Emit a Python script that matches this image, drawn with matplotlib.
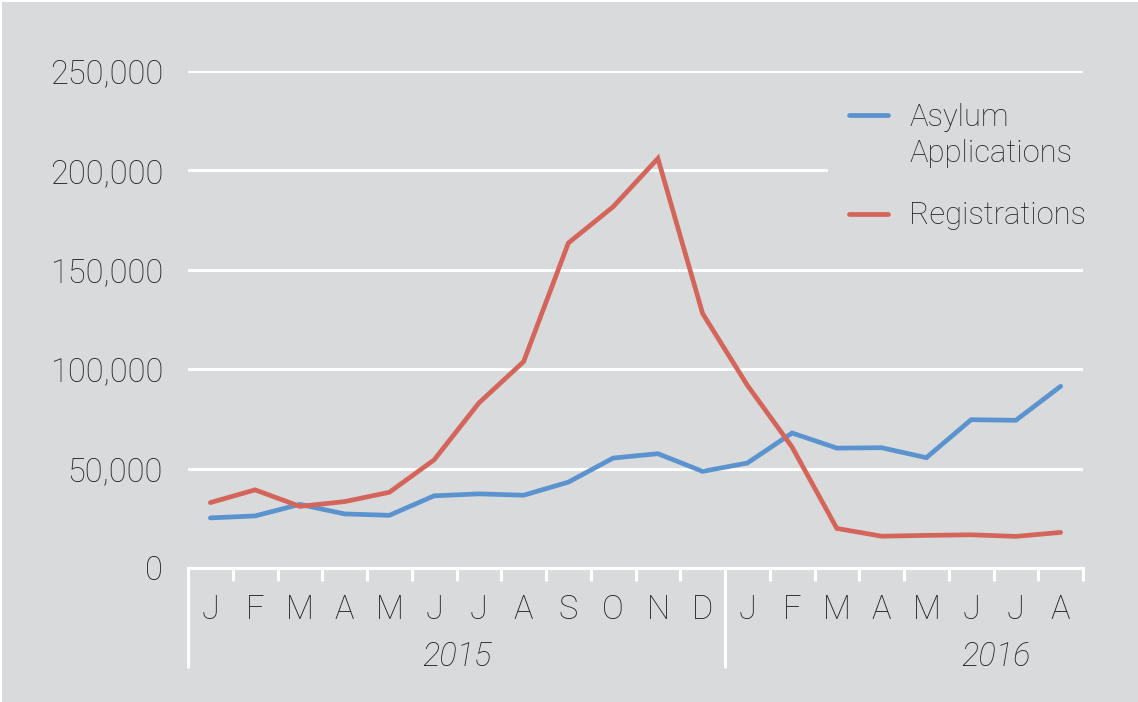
import matplotlib
matplotlib.use("Agg")
import matplotlib.pyplot as plt
from matplotlib.lines import Line2D
from matplotlib.patches import Rectangle
import matplotlib.transforms as mtransforms

months = ["J", "F", "M", "A", "M", "J", "J", "A", "S", "O", "N", "D",
          "J", "F", "M", "A", "M", "J", "J", "A"]
years = ["2015", "2016"]
asylum = [25200, 26200, 32000, 27200, 26500, 36300, 37300, 36600, 43200, 55300,
          57500, 48600, 52800, 67900, 60300, 60500, 55500, 74600, 74300, 91400]
registrations = [32900, 39300, 31000, 33400, 38100, 54400, 83000, 103800, 163500, 181700,
                 206000, 128000, 91900, 60800, 19900, 16000, 16400, 16700, 15900, 17900]
yticks = [0, 50000, 100000, 150000, 200000, 250000]
legend_labels = [["Asylum", "Applications"], ["Registrations"]]

BG = "#d9dadc"
BLUE = "#5b93cf"
RED = "#d4655b"
TXT = "#222222"
FS = 23.5
FS_LEG = 22.3

plt.rcParams['font.family'] = ['Roboto', 'DejaVu Sans']
plt.rcParams['font.weight'] = 'light'

W, H = 1138, 702
fig = plt.figure(figsize=(W / 100, H / 100), dpi=100)
fig.patch.set_facecolor("white")
fig.add_artist(Rectangle((2 / W, 0), 1, (H - 2) / H, transform=fig.transFigure,
                         facecolor=BG, edgecolor="none", zorder=-10))

ax = fig.add_axes([188 / W, 134 / H, (1083 - 188) / W, (568 - 71) / H])
ax.set_facecolor(BG)
ax.patch.set_alpha(0)

x = list(range(len(months)))
ax.plot(x, asylum, color=BLUE, lw=3.4, solid_capstyle="round", solid_joinstyle="miter", zorder=3)
ax.plot(x, registrations, color=RED, lw=3.4, solid_capstyle="round", solid_joinstyle="miter", zorder=3)

ax.set_xlim(-0.5, len(months) - 0.5)
ax.set_ylim(0, 250000)
ax.set_yticks(yticks)
ax.set_yticklabels([f"{v:,}" for v in yticks])
ax.yaxis.grid(True, color="white", lw=2.2)
ax.set_axisbelow(True)

for s in ["top", "right", "left"]:
    ax.spines[s].set_visible(False)
ax.spines["bottom"].set_color("white")
ax.spines["bottom"].set_linewidth(2.2)
ax.spines["bottom"].set_zorder(2)

ax.set_xticks(x)
ax.set_xticklabels(months)
ax.set_xticks([i + 0.5 for i in range(len(months))], minor=True)
ax.tick_params(axis="x", which="major", length=0, pad=19, labelsize=FS, labelcolor=TXT)
ax.tick_params(axis="x", which="minor", length=9.5, width=2.2, color="white", direction="out")
ax.tick_params(axis="y", length=0, pad=18, labelsize=FS, labelcolor=TXT)

trans = mtransforms.blended_transform_factory(ax.transData, ax.transAxes)
for xb in [-0.5, 11.5]:
    ax.add_line(Line2D([xb, xb], [0, -(668 - 568) / 497], transform=trans, color="white",
                       lw=2.2, clip_on=False, solid_capstyle="butt"))

ax.text(5.5, -(657 - 568) / 497, years[0], transform=trans, ha="center", va="center",
        fontsize=FS, style="italic", color=TXT)
ax.text(17.55, -(657 - 568) / 497, years[1], transform=trans, ha="center", va="center",
        fontsize=FS, style="italic", color=TXT)

# legend (manual, in figure pixels from top-left)
def fx(px):
    return px / W

def fy(py):
    return 1 - py / H

fig.add_artist(Rectangle((fx(828), fy(245)), fx(1138 - 828), (245 - 95) / H,
                         transform=fig.transFigure, facecolor=BG, edgecolor="none", zorder=1))
handle_y = [115, 214]
baselines = [[125.5, 162], [223.5]]
for color, hy, labs, bls in zip([BLUE, RED], handle_y, legend_labels, baselines):
    fig.add_artist(Line2D([fx(849), fx(888)], [fy(hy), fy(hy)], transform=fig.transFigure,
                          color=color, lw=3.4, solid_capstyle="round", zorder=2))
    for lab, bl in zip(labs, bls):
        fig.text(fx(909), fy(bl), lab, ha="left", va="baseline", fontsize=FS_LEG, color=TXT, zorder=2)

fig.savefig("out.png", dpi=100, facecolor=fig.get_facecolor())
